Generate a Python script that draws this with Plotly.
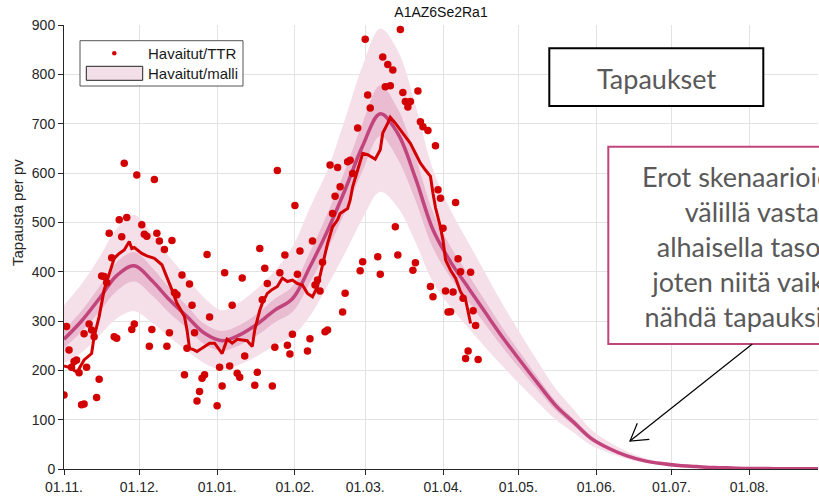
import pandas as pd
import plotly.graph_objects as go

START = pd.Timestamp("2020-11-01")

# ---- model band (day offsets from 1.11.2020) ----
model_day = list(range(0, 295, 7)) + [301]
model_med = [263, 300, 345, 392, 412, 382, 343, 309, 275, 260, 272, 294, 322, 345, 410, 483,
             566, 655, 720, 680, 590, 485, 420, 368, 316, 265, 218, 172, 128, 95, 62, 42,
             27, 17, 11, 7, 5, 3, 2, 1, 1, 0.5, 0.5, 0.5]
outer_hi = [332, 375, 428, 487, 515, 478, 430, 388, 346, 322, 338, 366, 402, 450, 530, 606,
            710, 818, 893, 848, 738, 607, 525, 460, 396, 332, 273, 216, 162, 121, 80, 55,
            36, 23, 15, 10, 7, 4.5, 3, 2, 1.5, 1, 1, 1]
outer_lo = [215, 236, 270, 305, 320, 297, 267, 240, 214, 202, 212, 229, 251, 269, 310, 372,
            438, 508, 562, 530, 460, 378, 328, 287, 246, 207, 170, 134, 100, 74, 48, 33,
            21, 13, 8.5, 5.5, 4, 2.3, 1.5, 0.8, 0.8, 0.4, 0.4, 0.4]
inner_hi = [282, 321, 369, 419, 440, 409, 367, 331, 294, 280, 292, 315, 345, 370, 440, 518,
            606, 702, 778, 730, 634, 521, 451, 395, 339, 284, 234, 184, 137, 102, 67, 45,
            29, 18, 12, 7.5, 5.4, 3.2, 2.1, 1.1, 1.1, 0.55, 0.55, 0.55]
inner_lo = [245, 278, 318, 361, 380, 352, 316, 285, 253, 240, 251, 271, 297, 318, 378, 445,
            521, 605, 675, 628, 545, 448, 388, 340, 292, 245, 201, 159, 118, 88, 57, 39,
            25, 16, 10, 6.5, 4.6, 2.8, 1.9, 0.9, 0.9, 0.45, 0.45, 0.45]

# ---- observed daily cases (dots) ----
obs_day = [0, 1, 2, 3, 4, 5, 6, 7, 8, 8, 9, 10, 11, 12, 13, 14, 15, 16, 17, 18, 19, 20, 21,
           22, 23, 24, 25, 27, 28, 29, 31, 32, 33, 34, 35, 36, 37, 38, 40, 41, 42, 43, 44, 45,
           47, 48, 49, 50, 51, 52, 53, 54, 55, 56, 57, 58, 61, 62, 63, 64, 66, 67, 69, 70, 71,
           72, 76, 77, 78, 79, 80, 81, 83, 84, 85, 86, 88, 89, 90, 91, 92, 93, 94, 97, 98, 99,
           100, 101, 102, 103, 104, 105, 106, 107, 108, 109, 110, 111, 112, 113, 114, 115, 117,
           118, 119, 120, 121, 122, 125, 126, 127, 128, 129, 130, 131, 132, 133, 134, 135, 136,
           137, 138, 139, 140, 141, 142, 143, 145, 146, 147, 148, 149, 150, 151, 152, 153, 154,
           155, 156, 157, 158, 159, 160, 161, 162, 163, 164, 165]
obs_val = [150, 289, 241, 206, 218, 221, 195, 130, 132, 274, 206, 294, 282, 268, 145, 182, 391,
           390, 378, 478, 428, 268, 265, 505, 471, 620, 510, 283, 294, 596, 495, 476, 472, 249,
           283, 587, 478, 462, 445, 249, 276, 463, 358, 353, 393, 191, 245, 375, 332, 276, 138,
           157, 184, 191, 435, 308, 128, 206, 168, 398, 209, 332, 194, 186, 387, 229, 170, 196,
           447, 343, 407, 376, 168, 247, 605, 398, 434, 251, 233, 273, 534, 395, 442, 239, 264,
           462, 373, 383, 361, 419, 278, 282, 616, 518, 553, 611, 572, 318, 356, 623, 626, 599,
           691, 402, 420, 871, 758, 732, 430, 395, 835, 775, 820, 777, 809, 491, 434, 891, 763,
           745, 734, 745, 403, 418, 766, 704, 694, 686, 370, 349, 655, 566, 549, 488, 361, 318,
           319, 359, 540, 426, 400, 346, 224, 239, 399, 321, 291, 222]

# ---- observed moving average (red line) ----
avg_day = [0, 2, 5, 6, 8, 11, 12, 14, 16, 18, 20, 22, 24, 26, 27, 28, 31, 33, 36, 39, 41, 43,
           45, 48, 49, 50, 52, 53, 55, 58, 60, 63, 65, 67, 69, 73, 75, 76, 78, 79, 81, 83, 85,
           87, 89, 91, 93, 95, 97, 99, 101, 103, 105, 107, 109, 110, 113, 114, 115, 117, 118,
           119, 121, 124, 126, 127, 129, 130, 132, 135, 138, 140, 142, 144, 146, 147, 148, 150,
           151, 152, 154, 156, 158, 160, 161, 162]
avg_val = [209, 206, 197, 203, 221, 234, 268, 309, 363, 397, 427, 437, 444, 461, 447, 449, 437,
           432, 427, 414, 390, 363, 336, 309, 282, 245, 241, 238, 245, 255, 255, 234, 263, 255,
           263, 260, 248, 282, 322, 336, 356, 364, 370, 387, 380, 383, 376, 373, 356, 349, 370,
           417, 457, 491, 505, 518, 528, 545, 572, 606, 626, 640, 637, 628, 647, 681, 701, 713,
           701, 681, 660, 640, 620, 606, 593, 559, 530, 490, 464, 424, 403, 387, 359, 343, 316,
           295]

month_ticks = ["2020-11-01", "2020-12-01", "2021-01-01", "2021-02-01", "2021-03-01",
               "2021-04-01", "2021-05-01", "2021-06-01", "2021-07-01", "2021-08-01"]
y_ticks = [0, 100, 200, 300, 400, 500, 600, 700, 800, 900]


def to_dates(days):
    return [START + pd.Timedelta(days=d) for d in days]


md = to_dates(model_day)
C_RED = "#d20000"
C_MED = "#c2447c"
C_OUT = "#f5e0ea"
C_IN = "#e9bcd1"

fig = go.Figure()
fig.add_trace(go.Scatter(x=md, y=outer_lo, mode="lines", line=dict(width=0, shape="spline"),
                         showlegend=False, hoverinfo="skip"))
fig.add_trace(go.Scatter(x=md, y=outer_hi, mode="lines", line=dict(width=0, shape="spline"),
                         fill="tonexty", fillcolor=C_OUT, name="Havaitut/malli", showlegend=False))
fig.add_trace(go.Scatter(x=md, y=inner_lo, mode="lines", line=dict(width=0, shape="spline"),
                         showlegend=False, hoverinfo="skip"))
fig.add_trace(go.Scatter(x=md, y=inner_hi, mode="lines", line=dict(width=0, shape="spline"),
                         fill="tonexty", fillcolor=C_IN, showlegend=False))
fig.add_trace(go.Scatter(x=md, y=model_med, mode="lines",
                         line=dict(width=3.5, color=C_MED, shape="spline"), showlegend=False))
fig.add_trace(go.Scatter(x=to_dates(obs_day), y=obs_val, mode="markers",
                         marker=dict(size=7.5, color=C_RED), name="Havaitut/TTR", showlegend=False))
fig.add_trace(go.Scatter(x=to_dates(avg_day), y=avg_val, mode="lines",
                         line=dict(width=3, color=C_RED), showlegend=False))

# pixel -> paper helpers (plot area: x 64..818, y 25..469)
def PX(x):
    return (x - 64) / 754.0


def PY(y):
    return (469 - y) / 444.0


shapes = []
annotations = []
# custom legend
shapes.append(dict(type="rect", xref="paper", yref="paper", x0=PX(80), x1=PX(243), y0=PY(86),
                   y1=PY(40.7), fillcolor="white", line=dict(color="#555555", width=1)))
shapes.append(dict(type="circle", xref="paper", yref="paper", x0=PX(112), x1=PX(116.6),
                   y0=PY(55.6), y1=PY(51), fillcolor=C_RED, line=dict(width=0)))
shapes.append(dict(type="rect", xref="paper", yref="paper", x0=PX(86.3), x1=PX(142.7),
                   y0=PY(80.3), y1=PY(66.3), fillcolor="#f3dfe8",
                   line=dict(color="#222222", width=1)))
for yy, txt in [(53.3, "Havaitut/TTR"), (73.3, "Havaitut/malli")]:
    annotations.append(dict(xref="paper", yref="paper", x=PX(146), y=PY(yy), text=txt,
                            showarrow=False, xanchor="left", yanchor="middle",
                            font=dict(family="Liberation Sans, Arial", size=15, color="#1a1a1a")))

# "Tapaukset" box
shapes.append(dict(type="rect", xref="paper", yref="paper", x0=PX(549.3), x1=PX(763.3),
                   y0=PY(106), y1=PY(48.3), fillcolor="white", line=dict(color="black", width=2)))
annotations.append(dict(xref="paper", yref="paper", x=PX(656.3), y=PY(78), text="Tapaukset",
                        showarrow=False, xanchor="center", yanchor="middle",
                        font=dict(family="Lato", size=27, color="#595959")))

# explanation box (extends beyond right edge, as in the reference)
shapes.append(dict(type="rect", xref="paper", yref="paper", x0=PX(608.3), x1=PX(900),
                   y0=PY(344), y1=PY(146.7), fillcolor="white",
                   line=dict(color="#c0457a", width=2)))
annotations.append(dict(xref="paper", yref="paper", x=PX(751), y=PY(246.5),
                        text="Erot skenaarioiden<br>välillä vasta<br>alhaisella tasolla<br>"
                             "joten niitä vaikea<br>nähdä tapauksissa",
                        showarrow=False, xanchor="center", yanchor="middle", align="center",
                        font=dict(family="Lato", size=27, color="#595959")))

# arrow
shapes.append(dict(type="path", xref="paper", yref="paper",
                   path=f"M {PX(752.3)} {PY(344)} L {PX(630)} {PY(441)}",
                   line=dict(color="black", width=1.2)))
shapes.append(dict(type="path", xref="paper", yref="paper",
                   path=f"M {PX(637.3)} {PY(423.3)} L {PX(630)} {PY(441)} L {PX(649.3)} {PY(439.3)}",
                   line=dict(color="black", width=1.2)))

# y-axis label
annotations.append(dict(xref="paper", yref="paper", x=PX(17), y=PY(213), text="Tapausta per pv",
                        textangle=-90, showarrow=False, xanchor="center", yanchor="middle",
                        font=dict(family="Liberation Sans, Arial", size=15, color="#262626")))

axis_common = dict(showline=True, linecolor="#262626", linewidth=1, ticks="outside", ticklen=5,
                   tickcolor="#262626", gridcolor="#e3e3e3", gridwidth=1, zeroline=False,
                   tickfont=dict(family="Liberation Sans, Arial", size=14, color="#262626"))

fig.update_layout(
    width=819, height=498,
    margin=dict(l=64, r=1, t=25, b=29),
    paper_bgcolor="white", plot_bgcolor="white",
    title=dict(text="A1AZ6Se2Ra1", x=0.5, xref="paper", xanchor="center",
               y=1 - 12 / 498, yref="container", yanchor="middle",
               font=dict(family="Liberation Sans, Arial", size=14, color="#111111")),
    xaxis=dict(type="date", range=[START, START + pd.Timedelta(days=300.4)],
               tickvals=month_ticks, tickformat="%d.%m.", **axis_common),
    yaxis=dict(range=[0, 900], tickvals=y_ticks, **axis_common),
    shapes=shapes, annotations=annotations, showlegend=False,
)

fig.write_html("out.html")
